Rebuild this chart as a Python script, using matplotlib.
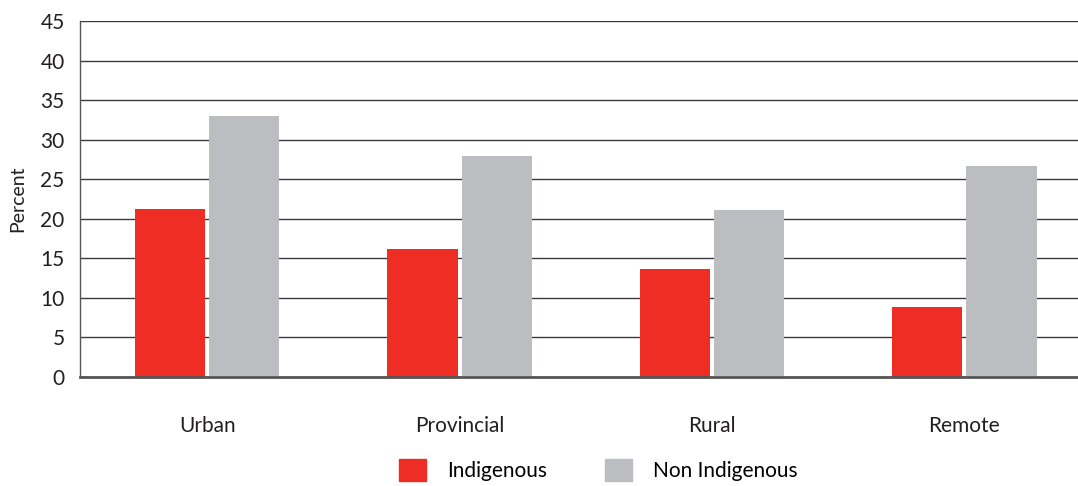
import numpy as np
import matplotlib.pyplot as plt
from matplotlib.patches import Patch

plt.rcParams['font.family'] = ['Lato', 'DejaVu Sans']

categories = ["Urban", "Provincial", "Rural", "Remote"]
indigenous = [21.2, 16.2, 13.6, 8.8]
non_indigenous = [33.0, 27.9, 21.1, 26.7]
yticks = [0, 5, 10, 15, 20, 25, 30, 35, 40, 45]

red = "#ee2e24"
grey = "#bcbdc1"
txt = "#231f20"

fig = plt.figure(figsize=(10.78, 4.86), dpi=100)
ax = fig.add_axes([0.0742, 0.2243, 0.9258, 0.7325])

x = np.arange(len(categories))
w = 0.278
off = 0.147
ax.bar(x - off, indigenous, width=w, color=red, zorder=3)
ax.bar(x + off, non_indigenous, width=w, color=grey, zorder=3)

ax.set_ylim(0, 45)
ax.set_xlim(-0.504, 3.45)
ax.set_yticks(yticks)
ax.set_yticklabels([str(t) for t in yticks], fontsize=15, color=txt)
ax.yaxis.grid(True, color="#3a3a3a", linewidth=1.0, zorder=1)
ax.set_axisbelow(True)
ax.tick_params(axis='y', length=0, pad=11)
ax.tick_params(axis='x', length=0, pad=28)
ax.set_xticks(x)
ax.set_xticklabels(categories, fontsize=15, color=txt)

for s in ["top", "right"]:
    ax.spines[s].set_visible(False)
ax.spines["left"].set_color("#555555")
ax.spines["left"].set_linewidth(1.0)
ax.spines["bottom"].set_color("#555555")
ax.spines["bottom"].set_linewidth(2.0)
ax.spines["bottom"].set_zorder(4)

ax.set_ylabel("Percent", fontsize=14, color=txt, labelpad=10)

handles = [Patch(color=red, label="Indigenous"), Patch(color=grey, label="Non Indigenous")]
fig.legend(handles=handles, loc="center", bbox_to_anchor=(0.555, 0.033), ncol=2,
           frameon=False, fontsize=15, handlelength=1.3, handleheight=1.3,
           handletextpad=1.0, columnspacing=2.8)

fig.savefig("out.png", dpi=100)
